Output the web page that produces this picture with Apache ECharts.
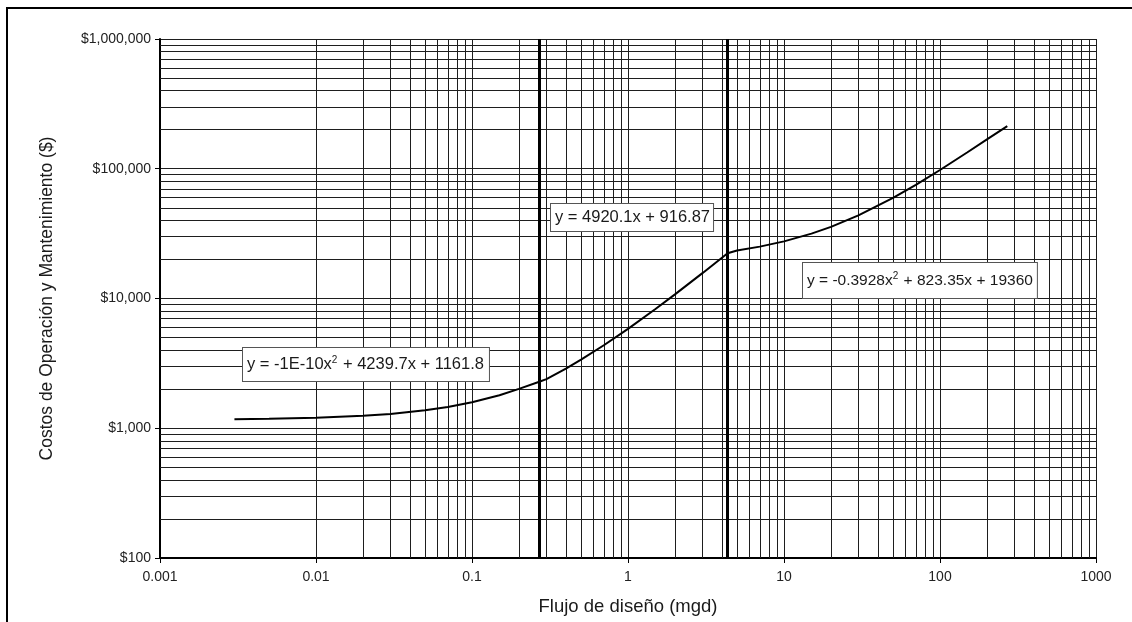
<!DOCTYPE html>
<html>
<head>
<meta charset="utf-8">
<script src="https://cdn.jsdelivr.net/npm/echarts@6/dist/echarts.min.js"></script>
<style>
  html, body { margin: 0; padding: 0; background: #fff; }
  #chart { width: 1132px; height: 622px; }
</style>
</head>
<body>
<div id="chart"></div>
<script>
// Design flow (mgd) and annual O&M cost ($) along the fitted cost curve
const flowMgd = [0.003, 0.005, 0.01, 0.02, 0.03, 0.05, 0.07, 0.1, 0.15, 0.2, 0.27,
                 0.3, 0.4, 0.5, 0.7, 1, 1.5, 2, 3, 4.35,
                 4.35, 5, 7, 10, 15, 20, 30, 50, 70, 100, 150, 200, 270];
const omCost = [1175, 1183, 1204, 1247, 1289, 1374, 1459, 1586, 1798, 2010, 2280,
                2393, 2885, 3377, 4361, 5837, 8297, 10757, 15677, 22319,
                22934, 23467, 25104, 27554, 31622, 35670, 43707, 59546, 75070, 97767, 134024, 168318, 213030];

// Flow values where the fitted equation changes
const breakpoints = [0.27, 4.35];

// Axis decades and their labels
const xTicks = [0.001, 0.01, 0.1, 1, 10, 100, 1000];
const xTickLabels = ['0.001', '0.01', '0.1', '1', '10', '100', '1000'];
const yTicks = [100, 1000, 10000, 100000, 1000000];
const yTickLabels = ['$100', '$1,000', '$10,000', '$100,000', '$1,000,000'];

// Fitted equations of the three ranges ({sup|..} marks an exponent)
const equations = [
  'y = 4920.1x + 916.87',
  'y = -0.3928x{sup|2} + 823.35x + 19360',
  'y = -1E-10x{sup|2} + 4239.7x + 1161.8'
];

// Intermediate log grid lines (2..9 within each decade)
function minorLines(decades) {
  const out = [];
  for (let i = 0; i < decades.length - 1; i++) {
    for (let m = 2; m <= 9; m++) out.push(decades[i] * m);
  }
  return out;
}

function nearestLabel(value, ticks, labels) {
  let best = 0;
  for (let i = 1; i < ticks.length; i++) {
    if (Math.abs(Math.log10(ticks[i]) - Math.log10(value)) <
        Math.abs(Math.log10(ticks[best]) - Math.log10(value))) best = i;
  }
  return labels[best];
}

const gridColor = '#1e1e1e';
const labelFont = 'Liberation Sans, Arial, sans-serif';

function equationBox(text, left, top, fontSize, padding) {
  return {
    type: 'text', z: 100, left: left, top: top, silent: true,
    style: {
      text: text,
      font: fontSize + 'px ' + labelFont,
      fill: '#1a1a1a',
      backgroundColor: '#fff',
      borderColor: '#555',
      borderWidth: 1,
      padding: padding,
      rich: {
        sup: { fontSize: 10, fontFamily: labelFont, fill: '#1a1a1a', padding: [0, 1, 9, 0] }
      }
    }
  };
}

const chart = echarts.init(document.getElementById('chart'), null, { renderer: 'canvas' });

chart.setOption({
  animation: false,
  backgroundColor: '#fff',
  grid: { left: 160, right: 36, top: 39, bottom: 64, containLabel: false },
  xAxis: {
    type: 'log',
    logBase: 10,
    min: xTicks[0],
    max: xTicks[xTicks.length - 1],
    splitNumber: 6,
    name: 'Flujo de diseño (mgd)',
    nameLocation: 'middle',
    nameGap: 39,
    nameTextStyle: { fontFamily: labelFont, fontSize: 18.5, color: '#1a1a1a' },
    axisLine: { show: true, lineStyle: { color: '#000', width: 2 } },
    axisTick: { show: true, length: 5, lineStyle: { color: '#000', width: 1 } },
    axisLabel: {
      margin: 12,
      fontFamily: labelFont, fontSize: 14, color: '#222',
      formatter: v => nearestLabel(v, xTicks, xTickLabels)
    },
    splitLine: { show: true, lineStyle: { color: gridColor, width: 1 } }
  },
  yAxis: {
    type: 'log',
    logBase: 10,
    min: yTicks[0],
    max: yTicks[yTicks.length - 1],
    splitNumber: 4,
    name: 'Costos de Operación y Mantenimiento ($)',
    nameLocation: 'middle',
    nameGap: 104,
    nameRotate: 90,
    nameTextStyle: { fontFamily: labelFont, fontSize: 17.5, color: '#1a1a1a' },
    axisLine: { show: true, lineStyle: { color: '#000', width: 2 } },
    axisTick: { show: true, length: 5, lineStyle: { color: '#000', width: 1 } },
    axisLabel: {
      margin: 9,
      fontFamily: labelFont, fontSize: 14, color: '#222',
      formatter: v => nearestLabel(v, yTicks, yTickLabels)
    },
    splitLine: { show: true, lineStyle: { color: gridColor, width: 1 } }
  },
  series: [
    {
      // intermediate grid lines
      type: 'line',
      data: [],
      silent: true,
      z: 1,
      markLine: {
        silent: true,
        symbol: 'none',
        label: { show: false },
        lineStyle: { color: gridColor, width: 1, type: 'solid' },
        data: minorLines(xTicks).map(v => ({ xAxis: v }))
          .concat(minorLines(yTicks).map(v => ({ yAxis: v })))
      }
    },
    {
      // range boundaries of the fitted equations
      type: 'line',
      data: [],
      silent: true,
      z: 2,
      markLine: {
        silent: true,
        symbol: 'none',
        label: { show: false },
        lineStyle: { color: '#000', width: 3, type: 'solid' },
        data: breakpoints.map(v => ({ xAxis: v }))
      }
    },
    {
      type: 'line',
      data: flowMgd.map((x, i) => [x, omCost[i]]),
      showSymbol: false,
      smooth: false,
      z: 5,
      lineStyle: { color: '#000', width: 2 }
    }
  ],
  graphic: [
    {
      type: 'rect',
      z: 0,
      silent: true,
      shape: { x: 7, y: 8, width: 1140, height: 640 },
      style: { fill: 'none', stroke: '#000', lineWidth: 2 }
    },
    equationBox(equations[0], 550, 203, 16.5, [5, 3, 5, 4]),
    equationBox(equations[1], 802, 262, 15.5, [8, 4, 8, 4]),
    equationBox(equations[2], 242, 347, 16.5, [7, 5, 7, 4])
  ]
});
</script>
</body>
</html>
